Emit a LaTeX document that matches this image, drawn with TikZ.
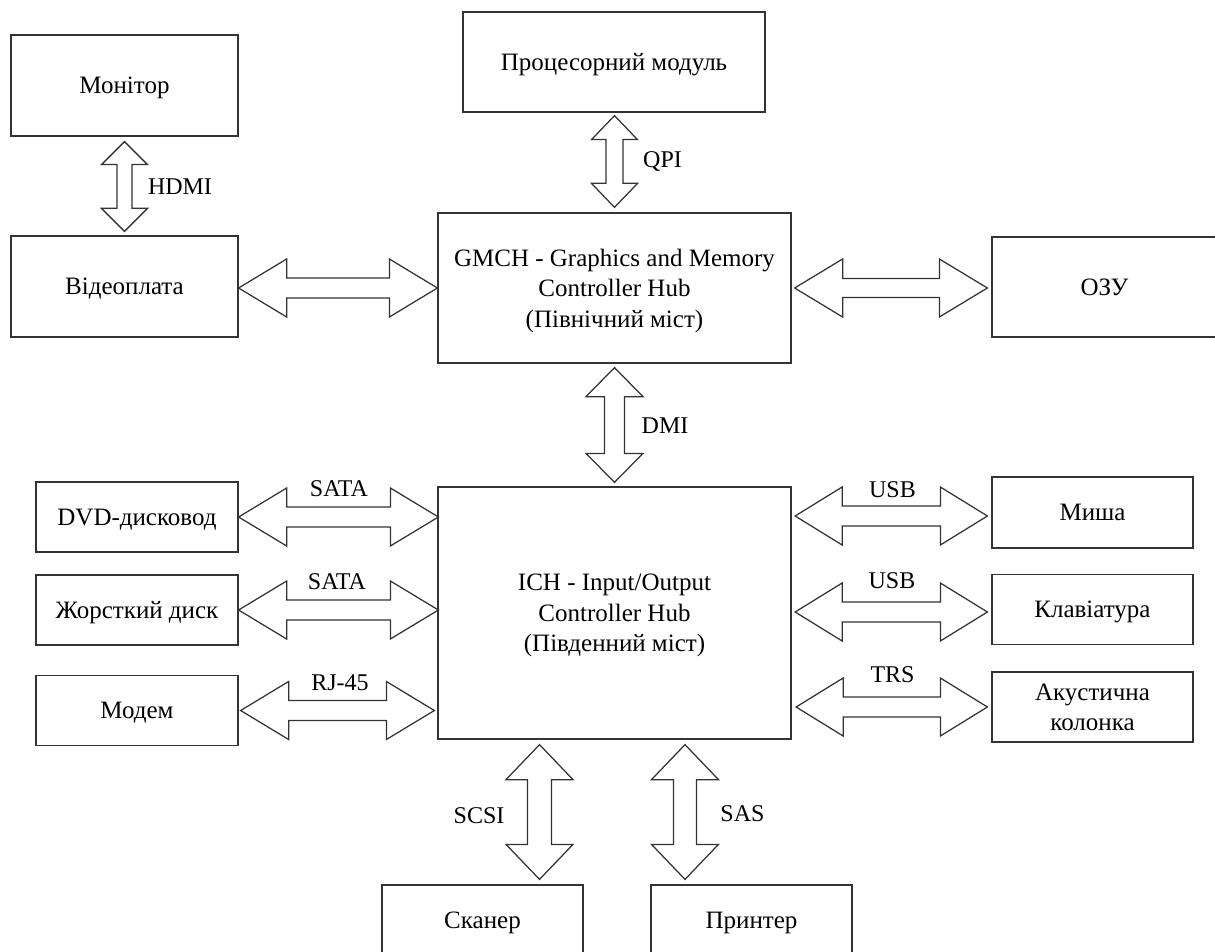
\documentclass[tikz,border=0pt]{standalone}
\usepackage{fontspec}
\setmainfont{Liberation Serif}
\usetikzlibrary{calc}
\tikzset{
  box/.style={draw=black!80, line width=1.25pt, rectangle, align=center, inner sep=0pt,
    text depth=0pt, font=\fontsize{25}{30.5}\selectfont},
  smallbox/.style={box, minimum width=202, minimum height=70},
  lbl/.style={inner sep=0pt, font=\fontsize{24}{30}\selectfont},
  barrow/.style={draw=black!80, line width=1.25pt, fill=white, line join=miter},
}
% horizontal block double arrow: left pt, right pt, head half-width, shaft half-width, head length
\newcommand\hbarrow[5]{%
  \draw[barrow] let \p1=(#1), \p2=(#2) in
    (\x1,\y1) -- (\x1+#5pt,\y1+#3pt) -- (\x1+#5pt,\y1+#4pt) -- (\x2-#5pt,\y1+#4pt)
    -- (\x2-#5pt,\y1+#3pt) -- (\x2,\y1) -- (\x2-#5pt,\y1-#3pt) -- (\x2-#5pt,\y1-#4pt)
    -- (\x1+#5pt,\y1-#4pt) -- (\x1+#5pt,\y1-#3pt) -- cycle;}
% vertical block double arrow: top pt, bottom pt, head half-width, shaft half-width, head length
\newcommand\vbarrow[5]{%
  \draw[barrow] let \p1=(#1), \p2=(#2) in
    (\x1,\y1) -- (\x1+#3pt,\y1-#5pt) -- (\x1+#4pt,\y1-#5pt) -- (\x1+#4pt,\y2+#5pt)
    -- (\x1+#3pt,\y2+#5pt) -- (\x1,\y2) -- (\x1-#3pt,\y2+#5pt) -- (\x1-#4pt,\y2+#5pt)
    -- (\x1-#4pt,\y1-#5pt) -- (\x1-#3pt,\y1-#5pt) -- cycle;}
\begin{document}
\begin{tikzpicture}[x=1pt,y=-1pt]
\useasboundingbox (0,0) rectangle (1215,952);
% boxes
\node[box, minimum width=227, minimum height=101] (mon) at (124.5,85.5) {Монітор};
\node[box, minimum width=227, minimum height=101] (vid) at (124.5,286.5) {Відеоплата};
\node[box, minimum width=302, minimum height=100] (proc) at (614,62) {Процесорний модуль};
\node[box, minimum width=353, minimum height=150] (gmch) at (614.5,288) {GMCH - Graphics and Memory\\Controller Hub\\(Північний міст)};
\node[box, minimum width=225, minimum height=100] (ozu) at (1104.5,287) {ОЗУ};
\node[box, minimum width=353, minimum height=252] (ich) at (614.5,613) {ICH - Input/Output\\Controller Hub\\(Південний міст)};
\node[smallbox] (dvd) at (137,517) {DVD-дисковод};
\node[smallbox] (hdd) at (137,610) {Жорсткий диск};
\node[smallbox] (modem) at (137,710.5) {Модем};
\node[smallbox, minimum width=201, minimum height=71] (mouse) at (1092.5,512.5) {Миша};
\node[smallbox, minimum width=201] (kbd) at (1092.5,609.5) {Клавіатура};
\node[smallbox, minimum width=201] (spk) at (1092.5,707) {Акустична\\колонка};
\node[smallbox, minimum width=201] (scan) at (482.5,920) {Сканер};
\node[smallbox, minimum width=201] (prn) at (751.5,920) {Принтер};
% arrows
\vbarrow{$(mon.south)+(0,5)$}{$(vid.north)+(0,-4)$}{23}{7.5}{23}
\hbarrow{vid.east |- gmch.west}{gmch.west}{29}{10}{48}
\vbarrow{$(proc.south -| gmch.north)+(0,3)$}{$(gmch.north)+(0,-5)$}{23}{8.5}{24}
\hbarrow{$(gmch.east)+(3,0)$}{$(ozu.west |- gmch.east)+(-4,0)$}{29}{9.5}{48}
\vbarrow{$(gmch.south)+(0,4)$}{$(ich.north)+(0,-4)$}{28.5}{10}{29}
\hbarrow{dvd.east}{$(dvd.east -| ich.west)+(1,0)$}{29}{10}{48}
\hbarrow{hdd.east}{$(hdd.east -| ich.west)+(1,0)$}{29}{10}{48}
\hbarrow{$(modem.east)+(2,0)$}{$(modem.east -| ich.west)+(-3,0)$}{29}{10}{48}
\hbarrow{$(mouse.west -| ich.east)+(3.5,3.5)$}{$(mouse.west)+(-4,3.5)$}{29}{10}{47}
\hbarrow{$(kbd.west -| ich.east)+(3.5,2.5)$}{$(kbd.west)+(-4,2.5)$}{29}{10}{47}
\hbarrow{$(spk.west -| ich.east)+(4.5,0)$}{$(spk.west)+(-4,0)$}{29}{10}{47}
\vbarrow{$(ich.south)+(-75,5)$}{$(scan.north -| ich.south)+(-75,-5)$}{33.5}{12}{35}
\vbarrow{$(ich.south)+(70.5,5)$}{$(prn.north -| ich.south)+(70.5,-5)$}{33.5}{11.5}{35}
% labels
\node[lbl, anchor=base] (lhdmi) at (180,195) {HDMI};
\node[lbl, anchor=base] (lqpi) at (662.5,168) {QPI};
\node[lbl, anchor=base] (ldmi) at (665,433) {DMI};
\node[lbl, anchor=base] (lsata1) at (339,496) {SATA};
\node[lbl, anchor=base] (lsata2) at (337,589) {SATA};
\node[lbl, anchor=base] (lrj) at (340,690) {RJ-45};
\node[lbl, anchor=base] (lusb1) at (892.5,497) {USB};
\node[lbl, anchor=base] (lusb2) at (892,588) {USB};
\node[lbl, anchor=base] (ltrs) at (892.5,682) {TRS};
\node[lbl, anchor=base] (lscsi) at (479,823) {SCSI};
\node[lbl, anchor=base] (lsas) at (742.5,821) {SAS};
\end{tikzpicture}
\end{document}
